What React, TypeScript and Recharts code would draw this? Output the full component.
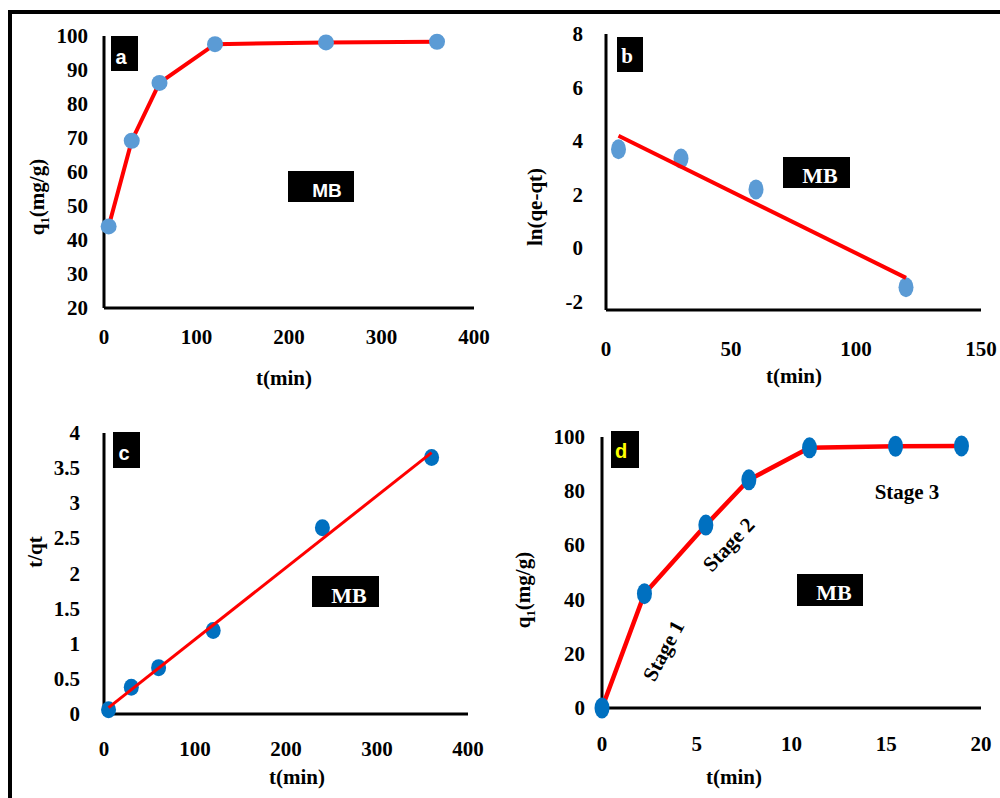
import React from "react";
import { ScatterChart, Scatter, XAxis, YAxis } from "recharts";

const SERIF = '"Liberation Serif", "Times New Roman", serif';
const SANS = '"Liberation Sans", Arial, sans-serif';

// (a) uptake vs time
const timeA = [5, 30, 60, 120, 240, 360];
const qtA = [44, 69.2, 86.2, 97.6, 98.1, 98.3];
const xTicksA = [0, 100, 200, 300, 400];
const yTicksA = [20, 30, 40, 50, 60, 70, 80, 90, 100];

// (b) pseudo-first order
const timeB = [5, 30, 60, 120];
const lnB = [3.7, 3.35, 2.2, -1.45];
const fitTimeB = [5, 120];
const fitLnB = [4.2, -1.1];
const xTicksB = [0, 50, 100, 150];
const yTicksB = [-2, 0, 2, 4, 6, 8];

// (c) pseudo-second order
const timeC = [5, 30, 60, 120, 240, 360];
const tqC = [0.06, 0.38, 0.66, 1.19, 2.65, 3.65];
const fitTimeC = [5, 360];
const fitTqC = [0.09, 3.72];
const xTicksC = [0, 100, 200, 300, 400];
const yTicksC = [0, 0.5, 1, 1.5, 2, 2.5, 3, 3.5, 4];

const timeD = [0, 2.24, 5.48, 7.75, 10.95, 15.49, 18.97];
const qtD = [0, 42.2, 67.5, 84.2, 96, 96.6, 96.7];
const xTicksD = [0, 5, 10, 15, 20];
const yTicksD = [0, 20, 40, 60, 80, 100];

const pts = (xs: number[], ys: number[]) => xs.map((x, i) => ({ x, y: ys[i] }));

const tickFont = { fontFamily: SERIF, fontWeight: 700, fontSize: 21, fill: "#000" };

function Panel({ box, xDomain, yDomain, xTicks, yTicks, xOff, yOff, children }: any) {
  const yw = 60;
  const xh = 50;
  const mt = 20;
  const mr = 25;
  const width = box.R - box.L + yw + mr;
  const height = box.B - box.T + mt + xh;
  return (
    <div style={{ position: "absolute", left: box.L - yw, top: box.T - mt }}>
      <ScatterChart width={width} height={height} margin={{ top: mt, right: mr, bottom: 0, left: 0 }}>
        <XAxis
          type="number"
          dataKey="x"
          domain={xDomain}
          ticks={xTicks}
          interval={0}
          height={xh}
          tickSize={0}
          tickLine={false}
          axisLine={{ stroke: "#000", strokeWidth: 3 }}
          tick={(p: any) => (
            <text x={p.x} y={p.y + xOff} textAnchor="middle" dominantBaseline="central" {...tickFont}>
              {p.payload.value}
            </text>
          )}
        />
        <YAxis
          type="number"
          dataKey="y"
          domain={yDomain}
          ticks={yTicks}
          interval={0}
          width={yw}
          tickSize={0}
          tickLine={false}
          axisLine={{ stroke: "#000", strokeWidth: 3 }}
          tick={(p: any) => (
            <text x={p.x - yOff} y={p.y} textAnchor="end" dominantBaseline="central" {...tickFont}>
              {p.payload.value}
            </text>
          )}
        />
        {children}
      </ScatterChart>
    </div>
  );
}

const dot = (rx: number, ry: number, fill: string) => (p: any) =>
  <ellipse cx={p.cx} cy={p.cy} rx={rx} ry={ry} fill={fill} />;

const noDot = () => <g />;

function Txt({ x, y, children, size = 21, font = SERIF, color = "#000", angle = 0 }: any) {
  return (
    <div
      style={{
        position: "absolute",
        left: x,
        top: y,
        transform: `translate(-50%, -50%) rotate(${angle}deg)`,
        fontFamily: font,
        fontWeight: 700,
        fontSize: size,
        color,
        whiteSpace: "nowrap",
        lineHeight: 1,
      }}
    >
      {children}
    </div>
  );
}

function BlackBox({ l, t, r, b }: any) {
  return <div style={{ position: "absolute", left: l, top: t, width: r - l, height: b - t, background: "#000" }} />;
}

const QT = (
  <span>
    q<sub style={{ fontSize: "0.6em" }}>1</sub>(mg/g)
  </span>
);

export default function App() {
  return (
    <div style={{ position: "absolute", left: 0, top: 0, width: 1000, height: 798, background: "#fff", overflow: "hidden" }}>
      <div style={{ position: "absolute", left: 8, top: 10, width: 1000, height: 800, borderLeft: "4px solid #000", borderTop: "4px solid #000" }} />

      <Panel box={{ L: 104, T: 36, R: 474, B: 308 }} xDomain={[0, 400]} yDomain={[20, 100]} xTicks={xTicksA} yTicks={yTicksA} xOff={27} yOff={14}>
        <Scatter data={pts(timeA, qtA)} isAnimationActive={false} line={{ stroke: "#ff0000", strokeWidth: 4 }} shape={dot(8, 8, "#5B9BD5")} />
      </Panel>

      <Panel box={{ L: 606, T: 34, R: 981, B: 310 }} xDomain={[0, 150]} yDomain={[-2.3, 8]} xTicks={xTicksB} yTicks={yTicksB} xOff={37} yOff={21}>
        <Scatter data={pts(timeB, lnB)} isAnimationActive={false} shape={dot(7.5, 10, "#5B9BD5")} />
        <Scatter data={pts(fitTimeB, fitLnB)} isAnimationActive={false} line={{ stroke: "#ff0000", strokeWidth: 4 }} shape={noDot} />
      </Panel>

      <Panel box={{ L: 104, T: 433, R: 468, B: 714 }} xDomain={[0, 400]} yDomain={[0, 4]} xTicks={xTicksC} yTicks={yTicksC} xOff={33} yOff={22}>
        <Scatter data={pts(timeC, tqC)} isAnimationActive={false} shape={dot(7.5, 8.5, "#0070C0")} />
        <Scatter data={pts(fitTimeC, fitTqC)} isAnimationActive={false} line={{ stroke: "#ff0000", strokeWidth: 3 }} shape={noDot} />
      </Panel>

      <Panel box={{ L: 602, T: 437, R: 981, B: 708 }} xDomain={[0, 20]} yDomain={[0, 100]} xTicks={xTicksD} yTicks={yTicksD} xOff={34} yOff={15}>
        <Scatter data={pts(timeD, qtD)} isAnimationActive={false} line={{ stroke: "#ff0000", strokeWidth: 4.5 }} shape={dot(7.5, 10.5, "#0070C0")} />
      </Panel>

      {/* axis titles */}
      <Txt x={284} y={378}>t(min)</Txt>
      <Txt x={39} y={197} angle={-90}>{QT}</Txt>
      <Txt x={794} y={376}>t(min)</Txt>
      <Txt x={535} y={207} angle={-90}>ln(qe-qt)</Txt>
      <Txt x={297} y={777}>t(min)</Txt>
      <Txt x={35} y={552} angle={-90}>t/qt</Txt>
      <Txt x={734} y={777}>t(min)</Txt>
      <Txt x={525} y={590} angle={-90}>{QT}</Txt>

      {/* panel tags */}
      <BlackBox l={111} t={36} r={138} b={71} />
      <Txt x={121} y={57} font={SANS} size={20} color="#fff">a</Txt>
      <BlackBox l={617} t={37} r={643} b={72} />
      <Txt x={627} y={56} size={21} color="#fff">b</Txt>
      <BlackBox l={113} t={432} r={140} b={468} />
      <Txt x={124} y={453} font={SANS} size={20} color="#fff">c</Txt>
      <BlackBox l={611} t={431} r={639} b={468} />
      <Txt x={621} y={451} font={SANS} size={20} color="#ffff00">d</Txt>

      {/* MB boxes */}
      <BlackBox l={288} t={171} r={354} b={202} />
      <Txt x={327} y={190} font={SANS} size={19} color="#fff">MB</Txt>
      <BlackBox l={783} t={157} r={850} b={188} />
      <Txt x={820} y={176} size={22} color="#fff">MB</Txt>
      <BlackBox l={312} t={576} r={379} b={607} />
      <Txt x={349} y={596} size={22} color="#fff">MB</Txt>
      <BlackBox l={797} t={574} r={863} b={606} />
      <Txt x={834} y={593} size={22} color="#fff">MB</Txt>

      {/* stage labels */}
      <Txt x={664} y={651} angle={-62}>Stage 1</Txt>
      <Txt x={729} y={545} angle={-47}>Stage 2</Txt>
      <Txt x={907} y={492}>Stage 3</Txt>
    </div>
  );
}
